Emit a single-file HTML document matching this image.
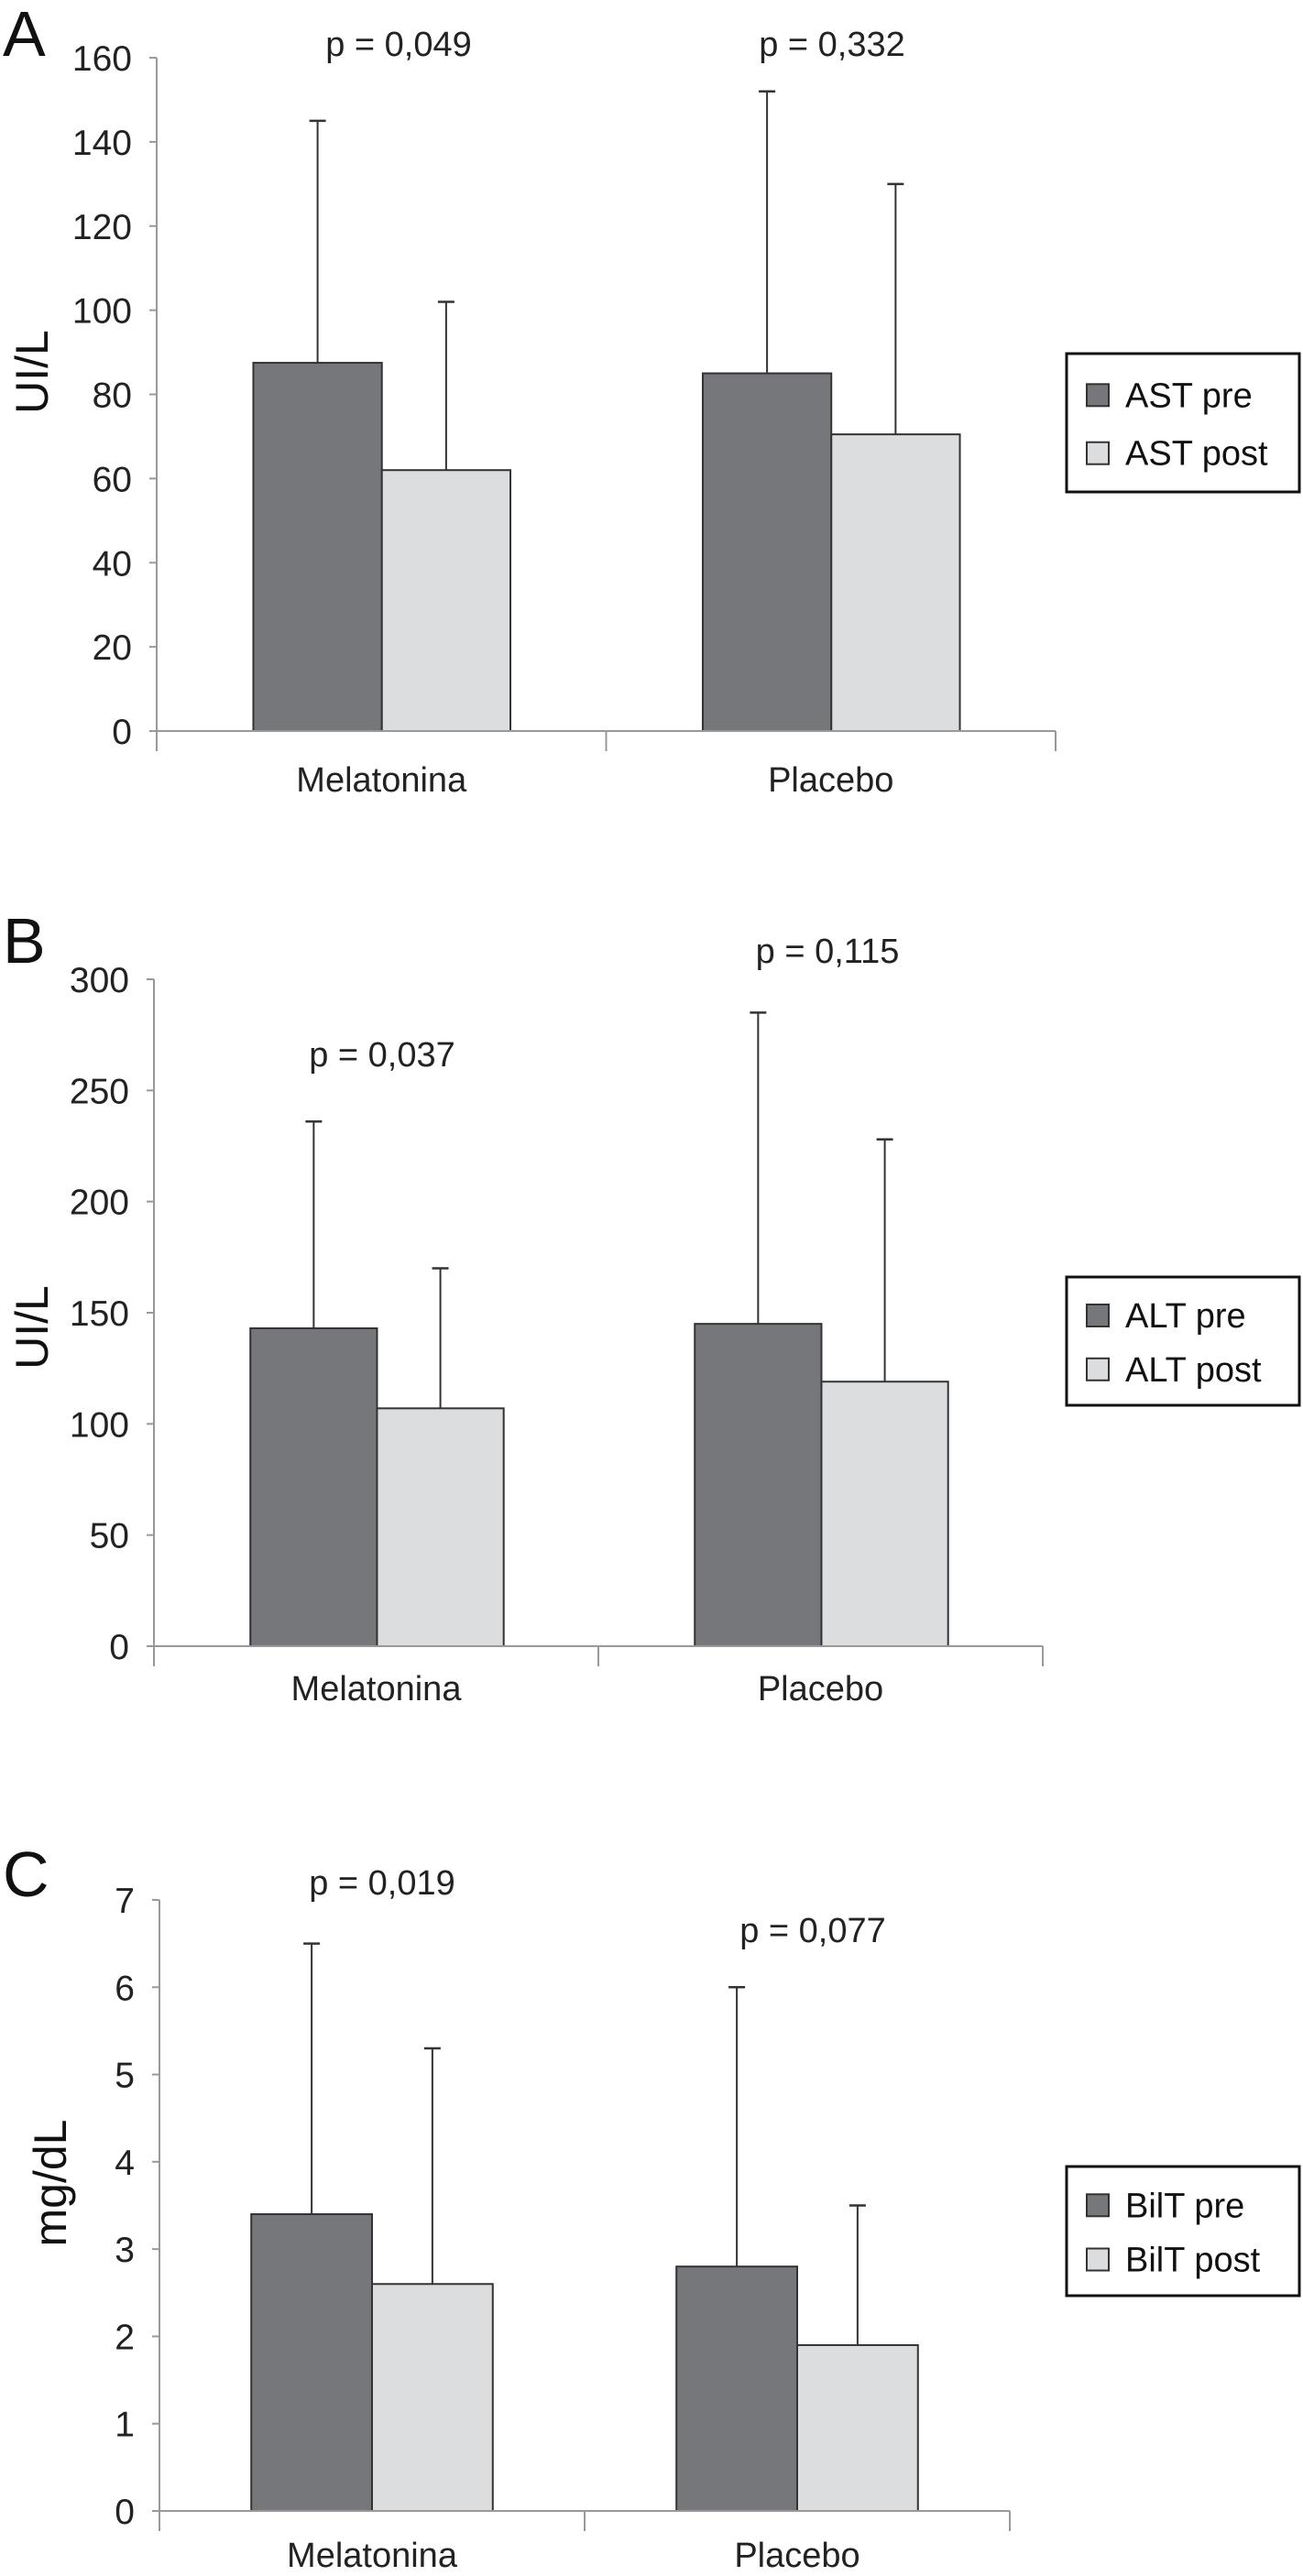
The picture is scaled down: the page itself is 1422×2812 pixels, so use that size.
<!DOCTYPE html>
<html><head><meta charset="utf-8"><style>
body{margin:0;background:#fff;}
svg{display:block;font-family:"Liberation Sans",sans-serif;}
</style></head><body>
<svg id="fig" width="1422" height="2812" viewBox="0 0 1422 2812"></svg>
<script>
const categories = ["Melatonina","Placebo"];
const astPre = [87.5, 85];
const astPost = [62, 70.5];
const astPreErr = [145, 152];
const astPostErr = [102, 130];
const astTicks = [0,20,40,60,80,100,120,140,160];
const altPre = [143, 145];
const altPost = [107, 119];
const altPreErr = [236, 285];
const altPostErr = [170, 228];
const altTicks = [0,50,100,150,200,250,300];
const bilPre = [3.4, 2.8];
const bilPost = [2.6, 1.9];
const bilPreErr = [6.5, 6.0];
const bilPostErr = [5.3, 3.5];
const bilTicks = [0,1,2,3,4,5,6,7];

const NS="http://www.w3.org/2000/svg";
const svg=document.getElementById('fig');
function el(tag,attrs,parent,text){const e=document.createElementNS(NS,tag);for(const k in attrs)e.setAttribute(k,attrs[k]);if(text!==undefined)e.textContent=text;(parent||svg).appendChild(e);return e;}

function panel(cfg){
  const g=el('g',{});
  
  
  const y=v=>cfg.y0-(v/cfg.max)*(cfg.y0-cfg.yTop);
  const L=el('text',{x:3,y:cfg.letterY,'font-size':70,fill:'#111'},g,cfg.letter);
  
  
  const ya=el('line',{x1:cfg.x0,y1:cfg.yTop,x2:cfg.x0,y2:cfg.y0+10,stroke:'#999','stroke-width':2},g);
  
  
  cfg.ticks.forEach(t=>{
    el('line',{x1:cfg.x0-8,y1:y(t),x2:cfg.x0,y2:y(t),stroke:'#999','stroke-width':2},g);
    const tl=el('text',{x:cfg.x0-27,y:y(t)+14,'font-size':39,'text-anchor':'end',fill:'#222'},g,String(t));
    
    
  });
  const yl=el('text',{x:0,y:0,'font-size':50,'text-anchor':'middle',fill:'#111',transform:`translate(${cfg.ylabX},${cfg.ylabY}) rotate(-90)`},g,cfg.ylab);
  
  
  const groupW=(cfg.x1-cfg.x0)/categories.length;
  categories.forEach((c,i)=>{
    const gx=cfg.x0+groupW*i;
    const bx=gx+groupW*cfg.barOff;
    const bw=groupW*cfg.barW;
    [[cfg.pre,cfg.preErr,'#76777b','pre'],[cfg.post,cfg.postErr,'#dcdddf','post']].forEach((s,j)=>{
      const x=bx+bw*j, v=s[0][i], e=s[1][i];
      const r=el('rect',{x:x,y:y(v),width:bw,height:cfg.y0-y(v),fill:s[2],stroke:'#333','stroke-width':2},g);
      
      
      const cx=x+bw/2;
      const eb=el('line',{x1:cx,y1:y(v),x2:cx,y2:y(e),stroke:'#333','stroke-width':2},g);
      
      
      el('line',{x1:cx-9,y1:y(e),x2:cx+9,y2:y(e),stroke:'#333','stroke-width':2.5},g);
    });
    const ct=el('text',{x:gx+groupW/2,y:cfg.catY,'font-size':38,'text-anchor':'middle',fill:'#222'},g,c);
    
    
    el('line',{x1:gx+groupW,y1:cfg.y0,x2:gx+groupW,y2:cfg.y0+22,stroke:'#999','stroke-width':2},g);
    const p=el('text',{x:cfg.pX[i],y:cfg.pY[i],'font-size':38,'text-anchor':'middle',fill:'#222'},g,cfg.pLabels[i]);
    
    
  });
  el('line',{x1:cfg.x0,y1:cfg.y0+22,x2:cfg.x0,y2:cfg.y0,stroke:'#999','stroke-width':2},g);
  const xa=el('line',{x1:cfg.x0,y1:cfg.y0,x2:cfg.x1,y2:cfg.y0,stroke:'#999','stroke-width':2},g);
  
  
  const lg=el('g',{},g);
  
  
  el('rect',{x:1164,y:cfg.legY,width:254,height:cfg.legH,fill:'#fff',stroke:'#111','stroke-width':3},lg);
  [[cfg.legNames[0],'#76777b'],[cfg.legNames[1],'#dcdddf']].forEach((s,k)=>{
    const cy=cfg.legY+cfg.legH*(k===0?0.3:0.72);
    const sw=el('rect',{x:1186,y:cy-12,width:24,height:24,fill:s[1],stroke:'#333','stroke-width':2},lg);
    
    
    const lt=el('text',{x:1228,y:cy+13,'font-size':38,fill:'#111'},lg,s[0]);
    
    
  });
}

panel({letter:'A',letterY:61,x0:171,x1:1152,yTop:63,y0:798,max:160,ticks:astTicks,
  pre:astPre,post:astPost,preErr:astPreErr,postErr:astPostErr,barOff:0.215,barW:0.286,
  ylab:'UI/L',ylabX:52,ylabY:406,catY:864,pX:[435,908],pY:[61,61],pLabels:['p = 0,049','p = 0,332'],
  legY:386,legH:151,legNames:['AST pre','AST post']});
panel({letter:'B',letterY:1051,x0:168,x1:1138,yTop:1069,y0:1797,max:300,ticks:altTicks,
  pre:altPre,post:altPost,preErr:altPreErr,postErr:altPostErr,barOff:0.217,barW:0.285,
  ylab:'UI/L',ylabX:52,ylabY:1449,catY:1856,pX:[417,903],pY:[1164,1051],pLabels:['p = 0,037','p = 0,115'],
  legY:1394,legH:140,legNames:['ALT pre','ALT post']});
panel({letter:'C',letterY:2070,x0:174,x1:1102,yTop:2074,y0:2741,max:7,ticks:bilTicks,
  pre:bilPre,post:bilPost,preErr:bilPreErr,postErr:bilPostErr,barOff:0.216,barW:0.284,
  ylab:'mg/dL',ylabX:72,ylabY:2383,catY:2802,pX:[417,887],pY:[2068,2120],pLabels:['p = 0,019','p = 0,077'],
  legY:2365,legH:141,legNames:['BilT pre','BilT post']});
</script>
</body></html>
